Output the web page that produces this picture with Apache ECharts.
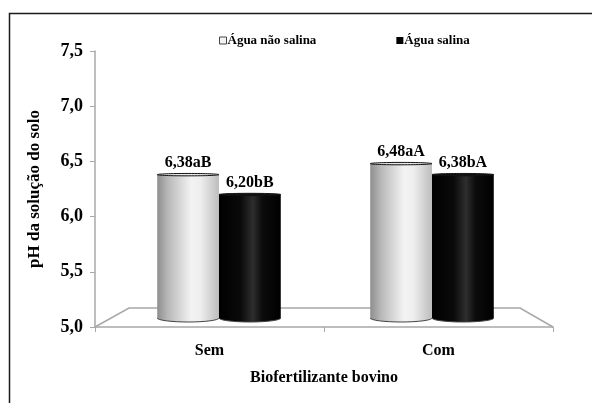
<!DOCTYPE html>
<html>
<head>
<meta charset="utf-8">
<script src="https://cdn.jsdelivr.net/npm/echarts@6/dist/echarts.min.js"></script>
<style>
  html, body { margin: 0; padding: 0; background: #fff; }
  #chart { width: 592px; height: 403px; }
</style>
</head>
<body>
<div id="chart"></div>
<script>
// pH da solução do solo por tratamento
const categories = ['Sem', 'Com'];
const seriesNames = ['Água não salina', 'Água salina'];
const naoSalina = [6.38, 6.48];
const salina = [6.20, 6.38];
const naoSalinaLabels = ['6,38aB', '6,48aA'];
const salinaLabels = ['6,20bB', '6,38bA'];
const yMin = 5.0, yMax = 7.5, yStep = 0.5;

const FONT = '"Liberation Serif", "Times New Roman", serif';

// plot frame (front edge of the floor) and the recessed band where cylinders stand
const G = { left: 95, right: 39, top: 51, bottom: 76 };
const W = 592, H = 403;
const floorDepth = { dx: 34, dy: 19 };

const chart = echarts.init(document.getElementById('chart'), null, { renderer: 'canvas' });

const whiteFill = {
  type: 'linear', x: 0, y: 0, x2: 1, y2: 0,
  colorStops: [
    { offset: 0, color: '#8e8e8e' },
    { offset: 0.18, color: '#b9b9b9' },
    { offset: 0.55, color: '#f3f3f3' },
    { offset: 0.7, color: '#eeeeee' },
    { offset: 1, color: '#bdbdbd' }
  ]
};
const blackFill = {
  type: 'linear', x: 0, y: 0, x2: 1, y2: 0,
  colorStops: [
    { offset: 0, color: '#000' },
    { offset: 0.35, color: '#0a0a0a' },
    { offset: 0.55, color: '#2e2e2e' },
    { offset: 0.7, color: '#0c0c0c' },
    { offset: 1, color: '#000' }
  ]
};

function cylinder(side, fill, topFill, labels) {
  return function (params, api) {
    const idx = api.value(0);
    const top = api.coord([idx, api.value(1)]);
    const base = api.coord([idx, yMin]);
    const band = api.size([1, 0])[0];
    const w = band * 0.29;
    const x0 = top[0] + side * w + 0.5;
    const x1 = x0 + w;
    const yt = top[1];
    const yb = base[1] - 9;
    const rx = w / 2, ry = 4;
    return {
      type: 'group',
      children: [
        {
          type: 'path',
          shape: {
            pathData: `M${x0},${yt} L${x1},${yt} L${x1},${yb} A${rx},${ry} 0 0 1 ${x0},${yb} Z`
          },
          style: { fill: fill, stroke: 'none' }
        },
        {
          type: 'path',
          shape: { pathData: `M${x1},${yb} A${rx},${ry} 0 0 1 ${x0},${yb}` },
          style: { fill: 'none', stroke: '#444', lineWidth: 1 }
        },
        {
          type: 'ellipse',
          shape: { cx: (x0 + x1) / 2, cy: yt, rx: rx, ry: 1.2 },
          style: { fill: topFill, stroke: '#111', lineWidth: 1 }
        },
        {
          type: 'text',
          style: {
            text: labels[params.dataIndex],
            x: (x0 + x1) / 2,
            y: yt - 4,
            align: 'center',
            verticalAlign: 'bottom',
            font: 'bold 16px ' + FONT,
            fill: '#000'
          }
        }
      ]
    };
  };
}

const option = {
  animation: false,
  backgroundColor: '#fff',
  textStyle: { fontFamily: FONT },
  graphic: [
    {
      type: 'rect', z: 0, silent: true,
      shape: { x: 9.5, y: 13.5, width: 700, height: 500 },
      style: { fill: 'none', stroke: '#1a1a1a', lineWidth: 1.5 }
    },
    {
      type: 'polyline', z: 1, silent: true,
      shape: {
        points: [
          [G.left, H - G.bottom],
          [G.left + floorDepth.dx, H - G.bottom - floorDepth.dy],
          [W - G.right - floorDepth.dx + 1, H - G.bottom - floorDepth.dy],
          [W - G.right, H - G.bottom]
        ]
      },
      style: { fill: 'none', stroke: '#a8a8a8', lineWidth: 1.5 }
    }
  ],
  legend: {
    left: 219,
    top: 34,
    padding: 0,
    itemWidth: 7,
    itemHeight: 7,
    itemGap: 80,
    icon: 'rect',
    textStyle: { fontFamily: FONT, fontWeight: 'bold', fontSize: 13, color: '#000', padding: [0, 0, 0, -4] },
    data: [
      { name: seriesNames[0], itemStyle: { color: '#f4f4f4', borderColor: '#444', borderWidth: 1 } },
      { name: seriesNames[1], itemStyle: { color: '#000' } }
    ]
  },
  grid: [
    { left: G.left, right: G.right, top: G.top, bottom: G.bottom },
    { left: 112, right: 54, top: G.top, bottom: G.bottom }
  ],
  xAxis: [
    {
      type: 'category', gridIndex: 0, data: categories,
      axisLine: { lineStyle: { color: '#a8a8a8', width: 1.5 } },
      axisTick: { show: true, length: 5, lineStyle: { color: '#a8a8a8' } },
      axisLabel: { fontFamily: FONT, fontWeight: 'bold', fontSize: 16, color: '#000', margin: 16 },
      name: 'Biofertilizante bovino', nameLocation: 'middle', nameGap: 43,
      nameTextStyle: { fontFamily: FONT, fontWeight: 'bold', fontSize: 16, color: '#000' }
    },
    { type: 'category', gridIndex: 1, data: categories, show: false }
  ],
  yAxis: [
    {
      type: 'value', gridIndex: 0, min: yMin, max: yMax, interval: yStep,
      axisLine: { show: true, lineStyle: { color: '#a8a8a8', width: 1.5 } },
      axisTick: { show: true, length: 5, lineStyle: { color: '#a8a8a8' } },
      splitLine: { show: false },
      axisLabel: {
        fontFamily: FONT, fontWeight: 'bold', fontSize: 18, color: '#000', margin: 12,
        formatter: v => v.toFixed(1).replace('.', ',')
      },
      name: 'pH da solução do solo', nameLocation: 'middle', nameGap: 52, nameRotate: 90,
      nameTextStyle: { fontFamily: FONT, fontWeight: 'bold', fontSize: 17, color: '#000' }
    },
    { type: 'value', gridIndex: 1, min: yMin, max: yMax, interval: yStep, show: false }
  ],
  series: [
    {
      name: seriesNames[0], type: 'custom', xAxisIndex: 1, yAxisIndex: 1,
      itemStyle: { color: '#f4f4f4', borderColor: '#444' },
      renderItem: cylinder(-1, whiteFill, '#e6e6e6', naoSalinaLabels),
      data: naoSalina.map((v, i) => [i, v]), z: 3
    },
    {
      name: seriesNames[1], type: 'custom', xAxisIndex: 1, yAxisIndex: 1,
      itemStyle: { color: '#000' },
      renderItem: cylinder(0, blackFill, '#111', salinaLabels),
      data: salina.map((v, i) => [i, v]), z: 3
    }
  ]
};

chart.setOption(option);
</script>
</body>
</html>
